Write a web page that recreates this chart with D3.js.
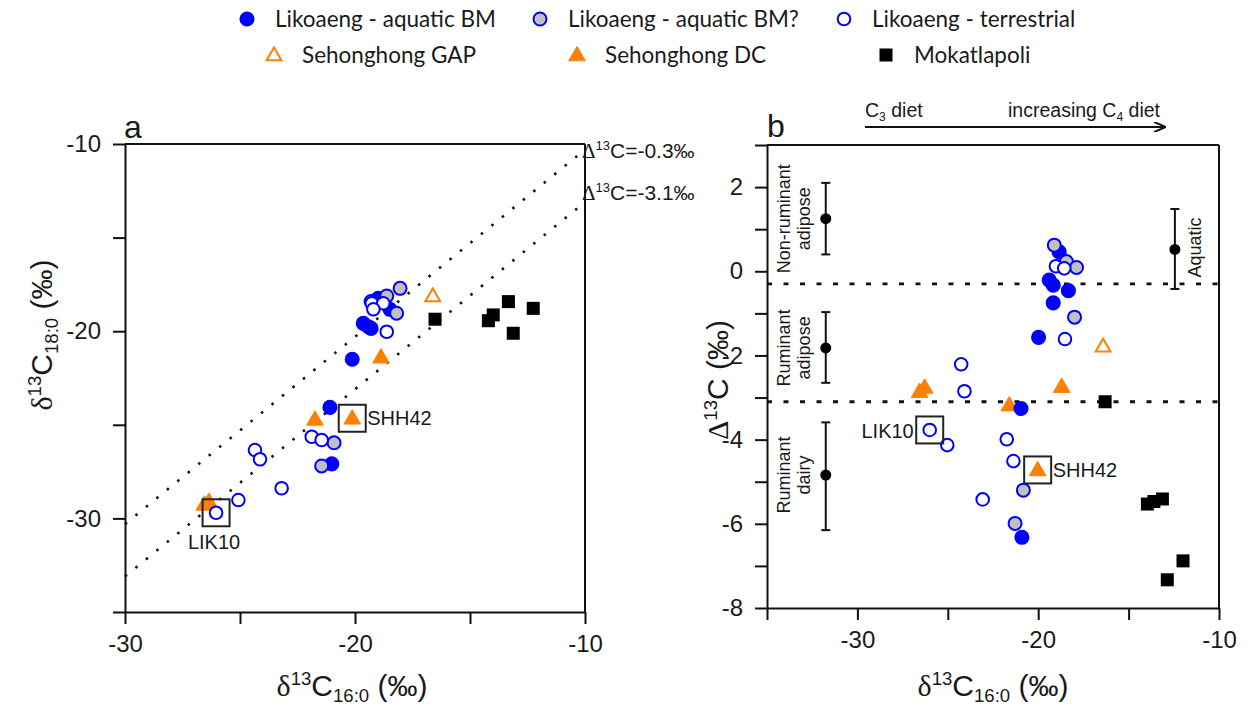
<!DOCTYPE html>
<html><head><meta charset="utf-8">
<script src="https://cdn.jsdelivr.net/npm/d3@7"></script>
<style>
body{margin:0;background:#fff;}
svg{display:block;}
text{fill:#1a1a1a;}
</style></head>
<body>
<svg id="chart" width="1249" height="708"></svg>
<script>
// ---------------- DATA ----------------
// Panel a: [δ13C16:0, δ13C18:0]
const aAquaticBM = [[-18.99,-18.24],[-18.48,-18.83],[-19.64,-19.58],[-19.42,-19.76],[-19.3,-19.85],[-20.12,-21.50],[-21.09,-24.07],[-21.01,-27.09]];
const aAquaticBMq = [[-18.04,-17.71],[-18.62,-18.12],[-19.3,-18.42],[-18.19,-19.04],[-20.91,-25.96],[-21.45,-27.20]];
const aTerrestrial = [[-19.27,-18.51],[-18.77,-18.51],[-19.20,-18.83],[-18.62,-20.03],[-24.35,-26.35],[-24.13,-26.84],[-21.88,-25.64],[-21.45,-25.81],[-23.19,-28.39],[-25.07,-29.02],[-26.04,-29.70]];
const aGAP = [[-16.62,-18.12]];
const aDC = [[-18.87,-21.39],[-21.74,-24.71],[-20.12,-24.65],[-26.55,-29.25],[-26.35,-29.10]];
const aMokatlapoli = [[-16.52,-19.36],[-14.20,-19.44],[-13.99,-19.13],[-13.33,-18.42],[-12.25,-18.78],[-13.12,-20.11]];
const aHighlights = [["LIK10",-26.04,-29.70],["SHH42",-20.12,-24.65]];
const aRefLines = [-0.3,-3.1];

// Panel b: [δ13C16:0, Δ13C]
const bAquaticBM = [[-18.84,0.46],[-19.39,-0.21],[-19.17,-0.33],[-18.33,-0.46],[-19.17,-0.75],[-19.98,-1.57],[-20.95,-3.26],[-20.90,-6.32]];
const bAquaticBMq = [[-19.11,0.62],[-18.44,0.23],[-17.88,0.09],[-17.99,-1.09],[-20.82,-5.20],[-21.28,-5.99]];
const bTerrestrial = [[-19.02,0.12],[-18.56,0.07],[-18.52,-1.61],[-24.26,-2.21],[-24.08,-2.85],[-26.0,-3.77],[-25.03,-4.13],[-21.74,-3.99],[-21.37,-4.51],[-23.07,-5.42]];
const bGAP = [[-16.41,-1.78]];
const bDC = [[-18.70,-2.74],[-21.60,-3.18],[-20.03,-4.72],[-26.56,-2.86],[-26.28,-2.76]];
const bMokatlapoli = [[-16.30,-3.10],[-13.96,-5.53],[-13.60,-5.47],[-13.13,-5.41],[-11.99,-6.88],[-12.86,-7.33]];
const bHighlights = [["LIK10",-26.0,-3.77],["SHH42",-20.03,-4.72]];
// reference ranges: [label lines, x, mean, upper, lower]
const refNames = [["Non-ruminant","adipose"],["Ruminant","adipose"],["Ruminant","dairy"],["Aquatic"]];
const refX = [-31.75,-31.75,-31.75,-12.44];
const refMean = [1.25,-1.82,-4.84,0.52];
const refHigh = [2.1,-0.97,-3.59,1.48];
const refLow = [0.4,-2.65,-6.15,-0.42];
const bRefLines = [-0.3,-3.1];

const legendLabels = ["Likoaeng - aquatic BM","Likoaeng - aquatic BM?","Likoaeng - terrestrial","Sehonghong GAP","Sehonghong DC","Mokatlapoli"];
const aTicksX = [-30,-25,-20,-15,-10];
const aTicksY = [-35,-30,-25,-20,-15,-10];
const bTicksX = [-35,-30,-25,-20,-15,-10];
const bTicksY = [-8,-7,-6,-5,-4,-3,-2,-1,0,1,2,3];

// ---------------- STYLE ----------------
const BLUE = "#0000ff", GREY = "#c0c0c0", ORANGE = "#ff8000";
const SANS = "Arial, 'Liberation Sans', Helvetica, sans-serif";
const SERIF = "'Times New Roman', 'Liberation Serif', serif";
const svg = d3.select("#chart");

function richText(g, x, y, parts, size, opts={}) {
  const t = g.append("text").attr("x", x).attr("y", y).attr("font-family", SANS)
    .attr("font-size", size).attr("text-anchor", opts.anchor || "start");
  if (opts.rotate) t.attr("transform", `rotate(${opts.rotate},${x},${y})`);
  let cur = 0;
  parts.forEach(([s, type]) => {
    let off = 0, fs = size, fam = SANS;
    if (type === "sup") { off = -size*0.38; fs = size*0.62; }
    if (type === "sub") { off = size*0.2; fs = size*0.62; }
    if (type === "serif") { fam = SERIF; }
    t.append("tspan").attr("dy", off - cur).attr("font-size", fs).attr("font-family", fam).text(s);
    cur = off;
  });
  return t;
}

function symbol(g, type, x, y) {
  if (type === "blue") g.append("circle").attr("cx", x).attr("cy", y).attr("r", 6.8).attr("fill", BLUE).attr("stroke", BLUE).attr("stroke-width", 1.5);
  else if (type === "grey") g.append("circle").attr("cx", x).attr("cy", y).attr("r", 6.5).attr("fill", GREY).attr("stroke", BLUE).attr("stroke-width", 2);
  else if (type === "open") g.append("circle").attr("cx", x).attr("cy", y).attr("r", 6.3).attr("fill", "#fff").attr("stroke", BLUE).attr("stroke-width", 2);
  else if (type === "openTri") g.append("path").attr("d", d3.symbol(d3.symbolTriangle, 95)()).attr("transform", `translate(${x},${y+1})`).attr("fill", "#fff").attr("stroke", ORANGE).attr("stroke-width", 2);
  else if (type === "tri") g.append("path").attr("d", d3.symbol(d3.symbolTriangle, 120)()).attr("transform", `translate(${x},${y+1})`).attr("fill", ORANGE).attr("stroke", ORANGE).attr("stroke-width", 1);
  else if (type === "square") g.append("rect").attr("x", x-6.5).attr("y", y-6.5).attr("width", 13).attr("height", 13).attr("fill", "#000");
}

// ---------------- LEGEND ----------------
const lg = svg.append("g");
const legendTypes = ["blue","grey","open","openTri","tri","square"];
const legendSymX = [247,540,844,274,577,886];
const legendRow = [0,0,0,1,1,1];
const rowY = [19,55];
legendTypes.forEach((t,i) => {
  const cy = rowY[legendRow[i]];
  symbol(lg, t, legendSymX[i], cy);
  lg.append("text").attr("x", legendSymX[i] + 28).attr("y", cy + 7.5)
    .attr("font-family", "Lato, 'Open Sans', sans-serif").attr("font-size", 22.5).text(legendLabels[i]);
});

// ---------------- PANEL A ----------------
const xa = d3.scaleLinear().domain([-30,-10]).range([125,585]);
const ya = d3.scaleLinear().domain([-35,-10]).range([612,144]);
const ga = svg.append("g");

function styleAxis(sel) {
  sel.selectAll("path,line").attr("stroke", "#111").attr("stroke-width", 2);
  sel.selectAll("text").attr("font-family", SANS).attr("font-size", 24).attr("fill", "#1a1a1a");
}
ga.append("g").attr("transform", "translate(0,612)")
  .call(d3.axisBottom(xa).tickValues(aTicksX).tickFormat(d => d % 10 === 0 ? String(d) : "").tickSize(12).tickSizeOuter(0).tickPadding(11))
  .call(styleAxis);
ga.append("g").attr("transform", "translate(125,0)")
  .call(d3.axisLeft(ya).tickValues(aTicksY).tickFormat(d => d % 10 === 0 ? String(d) : "").tickSize(12).tickSizeOuter(0).tickPadding(12))
  .call(styleAxis);
ga.append("line").attr("x1", xa(-30)).attr("x2", xa(-10)).attr("y1", ya(-10)).attr("y2", ya(-10)).attr("stroke", "#111").attr("stroke-width", 2);
ga.append("line").attr("x1", xa(-10)).attr("x2", xa(-10)).attr("y1", ya(-10)).attr("y2", ya(-35)).attr("stroke", "#111").attr("stroke-width", 2);

aRefLines.forEach(d => {
  ga.append("line").attr("x1", xa(-30)).attr("y1", ya(-30 + d)).attr("x2", xa(-10)).attr("y2", ya(-10 + d))
    .attr("stroke", "#111").attr("stroke-width", 2.6).attr("stroke-dasharray", "2.5,11");
});
richText(ga, 582, 158, [["Δ","serif"],["13","sup"],["C=-0.3‰","n"]], 21);
richText(ga, 582, 200, [["Δ","serif"],["13","sup"],["C=-3.1‰","n"]], 21);

function plotSeries(g, xs, ys, data, type) { data.forEach(([x,y]) => symbol(g, type, xs(x), ys(y))); }
plotSeries(ga, xa, ya, aMokatlapoli, "square");
plotSeries(ga, xa, ya, aGAP, "openTri");
plotSeries(ga, xa, ya, aDC, "tri");
plotSeries(ga, xa, ya, aAquaticBM, "blue");
plotSeries(ga, xa, ya, aAquaticBMq, "grey");
plotSeries(ga, xa, ya, aTerrestrial, "open");

aHighlights.forEach(([name,x,y]) => {
  ga.append("rect").attr("x", xa(x)-13.5).attr("y", ya(y)-13.5).attr("width", 27).attr("height", 27)
    .attr("fill", "none").attr("stroke", "#222").attr("stroke-width", 2);
});
ga.append("text").attr("x", xa(aHighlights[0][1]) - 2).attr("y", ya(aHighlights[0][2]) + 36).attr("text-anchor", "middle")
  .attr("font-family", SANS).attr("font-size", 20).text(aHighlights[0][0]);
ga.append("text").attr("x", xa(aHighlights[1][1]) + 15).attr("y", ya(aHighlights[1][2]) + 7)
  .attr("font-family", SANS).attr("font-size", 20).text(aHighlights[1][0]);

ga.append("text").attr("x", 124).attr("y", 138).attr("font-family", SANS).attr("font-size", 32).text("a");
richText(ga, 352, 696, [["δ","serif"],["13","sup"],["C","n"],["16:0","sub"],[" (‰)","n"]], 30, {anchor:"middle"});
richText(ga, 52, 335, [["δ","serif"],["13","sup"],["C","n"],["18:0","sub"],[" (‰)","n"]], 30, {anchor:"middle", rotate:-90});

// ---------------- PANEL B ----------------
const xb = d3.scaleLinear().domain([-35,-10]).range([767,1219]);
const yb = d3.scaleLinear().domain([-8,3]).range([608,145]);
const gb = svg.append("g");
gb.append("g").attr("transform", "translate(0,608)")
  .call(d3.axisBottom(xb).tickValues(bTicksX).tickFormat(d => (d % 10 === 0) ? String(d) : "").tickSize(12).tickSizeOuter(0).tickPadding(11))
  .call(styleAxis);
gb.append("g").attr("transform", "translate(767,0)")
  .call(d3.axisLeft(yb).tickValues(bTicksY).tickFormat(d => d % 2 === 0 ? String(d) : "").tickSize(12).tickSizeOuter(0).tickPadding(12))
  .call(styleAxis);
gb.append("line").attr("x1", xb(-35)).attr("x2", xb(-10)).attr("y1", yb(3)).attr("y2", yb(3)).attr("stroke", "#111").attr("stroke-width", 2);
gb.append("line").attr("x1", xb(-10)).attr("x2", xb(-10)).attr("y1", yb(3)).attr("y2", yb(-8)).attr("stroke", "#111").attr("stroke-width", 2);

bRefLines.forEach(d => {
  gb.append("line").attr("x1", xb(-35)).attr("x2", xb(-10)).attr("y1", yb(d)).attr("y2", yb(d))
    .attr("stroke", "#111").attr("stroke-width", 2.8).attr("stroke-dasharray", "5,11.5");
});

// reference ranges
refNames.forEach((lines, i) => {
  const cx = xb(refX[i]);
  gb.append("line").attr("x1", cx).attr("x2", cx).attr("y1", yb(refHigh[i])).attr("y2", yb(refLow[i])).attr("stroke", "#111").attr("stroke-width", 2);
  [refHigh[i], refLow[i]].forEach(v => gb.append("line").attr("x1", cx-4.5).attr("x2", cx+4.5).attr("y1", yb(v)).attr("y2", yb(v)).attr("stroke", "#111").attr("stroke-width", 2));
  gb.append("circle").attr("cx", cx).attr("cy", yb(refMean[i])).attr("r", 5.5).attr("fill", "#000");
});
function rotLabel(x, y, s) {
  gb.append("text").attr("x", x).attr("y", y).attr("transform", `rotate(-90,${x},${y})`).attr("text-anchor", "middle")
    .attr("font-family", SANS).attr("font-size", 18).attr("fill", "#333").text(s);
}
[0,1,2].forEach(i => {
  const cy = yb(refMean[i]);
  rotLabel(790, cy, refNames[i][0]);
  rotLabel(810, cy, refNames[i][1]);
});
rotLabel(1201, yb(refMean[3]) - 2, refNames[3][0]);

plotSeries(gb, xb, yb, bMokatlapoli, "square");
plotSeries(gb, xb, yb, bGAP, "openTri");
plotSeries(gb, xb, yb, bDC, "tri");
plotSeries(gb, xb, yb, bAquaticBM, "blue");
plotSeries(gb, xb, yb, bAquaticBMq, "grey");
plotSeries(gb, xb, yb, bTerrestrial, "open");

bHighlights.forEach(([name,x,y]) => {
  gb.append("rect").attr("x", xb(x)-13.5).attr("y", yb(y)-13.5).attr("width", 27).attr("height", 27)
    .attr("fill", "none").attr("stroke", "#222").attr("stroke-width", 2);
});
gb.append("text").attr("x", xb(bHighlights[0][1]) - 16).attr("y", yb(bHighlights[0][2]) + 8).attr("text-anchor", "end")
  .attr("font-family", SANS).attr("font-size", 20).text(bHighlights[0][0]);
gb.append("text").attr("x", xb(bHighlights[1][1]) + 15).attr("y", yb(bHighlights[1][2]) + 7)
  .attr("font-family", SANS).attr("font-size", 20).text(bHighlights[1][0]);

gb.append("text").attr("x", 767).attr("y", 137).attr("font-family", SANS).attr("font-size", 32).text("b");
// diet arrow
const defs = svg.append("defs");
defs.append("marker").attr("id", "arr").attr("viewBox", "0 0 12 10").attr("refX", 11).attr("refY", 5)
  .attr("markerWidth", 12).attr("markerHeight", 10).attr("markerUnits", "userSpaceOnUse").attr("orient", "auto")
  .append("path").attr("d", "M0,0 L12,5 L0,10").attr("fill", "none").attr("stroke", "#111").attr("stroke-width", 2);
gb.append("line").attr("x1", 865).attr("x2", 1165).attr("y1", 127).attr("y2", 127).attr("stroke", "#111").attr("stroke-width", 2).attr("marker-end", "url(#arr)");
richText(gb, 865, 117, [["C","n"],["3","sub"],[" diet","n"]], 19.5);
richText(gb, 1160, 117, [["increasing C","n"],["4","sub"],[" diet","n"]], 19.5, {anchor:"end"});

richText(gb, 993, 696, [["δ","serif"],["13","sup"],["C","n"],["16:0","sub"],[" (‰)","n"]], 30, {anchor:"middle"});
richText(gb, 728, 380, [["Δ","serif"],["13","sup"],["C (‰)","n"]], 30, {anchor:"middle", rotate:-90});
</script>
</body></html>
